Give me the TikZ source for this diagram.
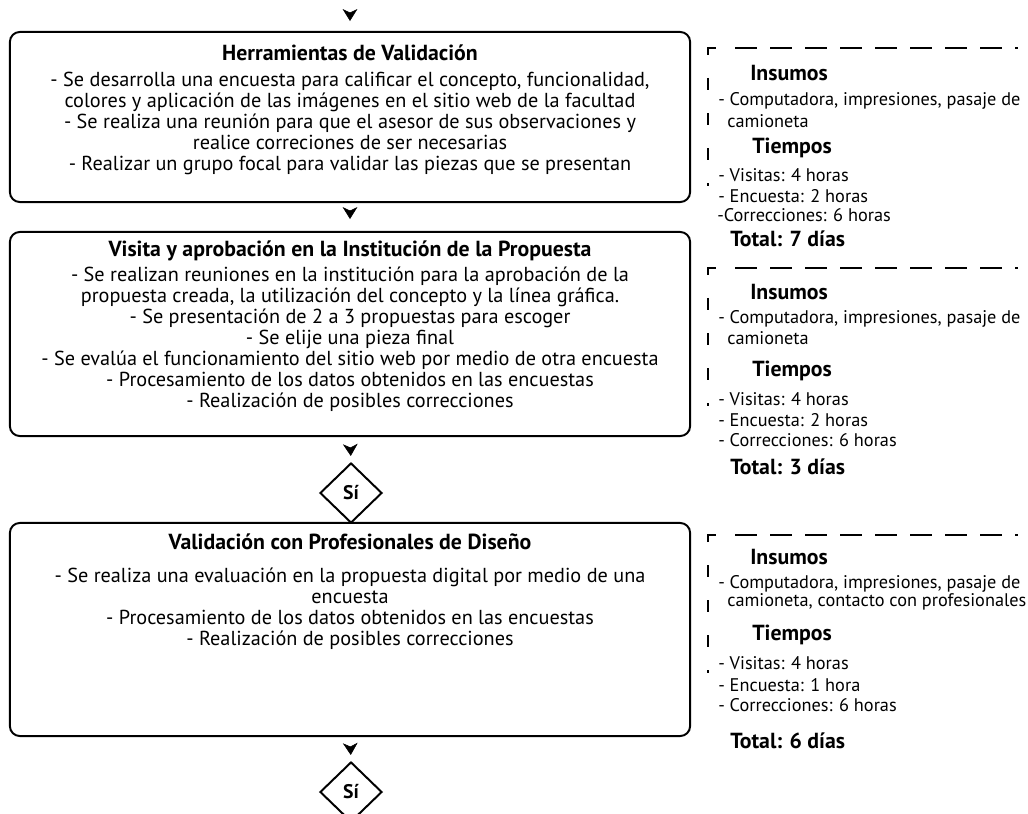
\documentclass[tikz,border=0pt]{standalone}
\usepackage{fontspec}
\setmainfont{PT Sans}
\usetikzlibrary{arrows.meta,shapes.geometric,positioning}
% corner + dashed frame of a side panel: (x,y) top left, end of the vertical part
\def\marcopanel(#1,#2)(#3){%
  \draw[marco] (#1,#2+7) -- (#1,#2) -- (#1+8,#2);
  \draw[marco, dash pattern=on 15.6pt off 9.3pt] (#1+27,#2) -- (1018,#2);
  \draw[marco, dash pattern=on 8.5pt off 16.4pt] (#1,#2+30) -- (#1,#3);}

\tikzset{
  box/.style={draw, rounded corners=7pt, line width=1.4pt, minimum width=17cm, inner sep=0pt},
  titulo/.style={font=\fontsize{15.5}{17}\selectfont\bfseries},
  cuerpo/.style={align=center, font=\fontsize{14.4}{14.94}\selectfont},
  decision/.style={draw, diamond, line width=1.4pt, minimum width=1.55cm, minimum height=1.5cm, inner sep=0pt, font=\fontsize{14}{15}\selectfont\bfseries},
  flecha/.style={draw=white, shorten <=3pt, -{Stealth[color=black, length=8.5pt, width=10.5pt, inset=2.5pt]}},
  encab/.style={anchor=west, inner sep=0pt, font=\fontsize{15.5}{17}\selectfont\bfseries},
  dato/.style={anchor=west, inner sep=0pt, font=\fontsize{13}{14}\selectfont},
  marco/.style={line width=1.8pt},
}

\begin{document}
\begin{tikzpicture}[x=0.025cm, y=-0.025cm]
	\useasboundingbox (0,0) rectangle (1028,814);

	%BOXES
	\node[box, minimum height=4.25cm] (b1) at (350,117) {};
	\node[box, minimum height=5.1cm] (b2) at (350,334) {};
	\node[box, minimum height=5.325cm] (b3) at (350,629.5) {};
	\node[decision] (d1) at (351,493) {Sí};
	\node[decision] (d2) at (351,792) {Sí};

	%BOX TEXTS
	\node[titulo] (t1) at (350,53) {Herramientas de Validación};
	\node[cuerpo] (c1) at (350,123) {- Se desarrolla una encuesta para calificar el concepto, funcionalidad,\\
		colores y aplicación de las imágenes en el sitio web de la facultad\\
		- Se realiza una reunión para que el asesor de sus observaciones y\\
		realice correciones de ser necesarias\\
		- Realizar un grupo focal para validar las piezas que se presentan};
	\node[titulo] (t2) at (350,251) {Visita y aprobación en la Institución de la Propuesta};
	\node[cuerpo] (c2) at (350,339) {- Se realizan reuniones en la institución para la aprobación de la\\
		propuesta creada, la utilización del concepto y la línea gráfica.\\
		- Se presentación de 2 a 3 propuestas para escoger\\
		- Se elije una pieza final\\
		- Se evalúa el funcionamiento del sitio web por medio de otra encuesta\\
		- Procesamiento de los datos obtenidos en las encuestas\\
		- Realización de posibles correcciones};
	\node[titulo] (t3) at (350,542) {Validación con Profesionales de Diseño};
	\node[cuerpo] (c3) at (350,609) {- Se realiza una evaluación en la propuesta digital por medio de una\\
		encuesta\\
		- Procesamiento de los datos obtenidos en las encuestas\\
		- Realización de posibles correcciones};

	%ARROWS
	\coordinate (inicio) at (350,0);
	\draw[flecha, shorten >=7.1pt] (inicio) -- (b1.north);
	\draw[flecha, shorten >=8.5pt] (b1.south) -- (b2.north);
	\draw[flecha, shorten >=4.3pt] (b2.south) -- (d1.north);
	\draw[flecha, shorten >=4.3pt] (b3.south) -- (d2.north);

	%PANEL 1
	\marcopanel(708,48)(186)
	\node[encab] (i1) at (750,73) {Insumos};
	\node[dato] (m1) at (718,101) {- Computadora, impresiones, pasaje de};
	\node[dato] (n1) at (727,121) {camioneta};
	\node[encab] (p1) at (752,148) {Tiempos};
	\node[dato] (v1) at (718,175) {- Visitas: 4 horas};
	\node[dato] (e1) at (718,196) {- Encuesta: 2 horas};
	\node[dato] (r1) at (717,215) {-Correcciones: 6 horas};
	\node[encab] (s1) at (730,239) {Total: 7 días};

	%PANEL 2
	\marcopanel(708,268)(406)
	\node[encab] (i2) at (750,292) {Insumos};
	\node[dato] (m2) at (718,319) {- Computadora, impresiones, pasaje de};
	\node[dato] (n2) at (727,338) {camioneta};
	\node[encab] (p2) at (752,371) {Tiempos};
	\node[dato] (v2) at (718,399) {- Visitas: 4 horas};
	\node[dato] (e2) at (718,420) {- Encuesta: 2 horas};
	\node[dato] (r2) at (718,440) {- Correcciones: 6 horas};
	\node[encab] (s2) at (730,467) {Total: 3 días};

	%PANEL 3
	\marcopanel(708,535)(673)
	\node[encab] (i3) at (750,557) {Insumos};
	\node[dato] (m3) at (718,584) {- Computadora, impresiones, pasaje de};
	\node[dato] (n3) at (727,602) {camioneta, contacto con profesionales};
	\node[encab] (p3) at (752,635) {Tiempos};
	\node[dato] (v3) at (718,663) {- Visitas: 4 horas};
	\node[dato] (e3) at (718,685) {- Encuesta: 1 hora};
	\node[dato] (r3) at (718,705) {- Correcciones: 6 horas};
	\node[encab] (s3) at (730,741) {Total: 6 días};
\end{tikzpicture}
\end{document}
